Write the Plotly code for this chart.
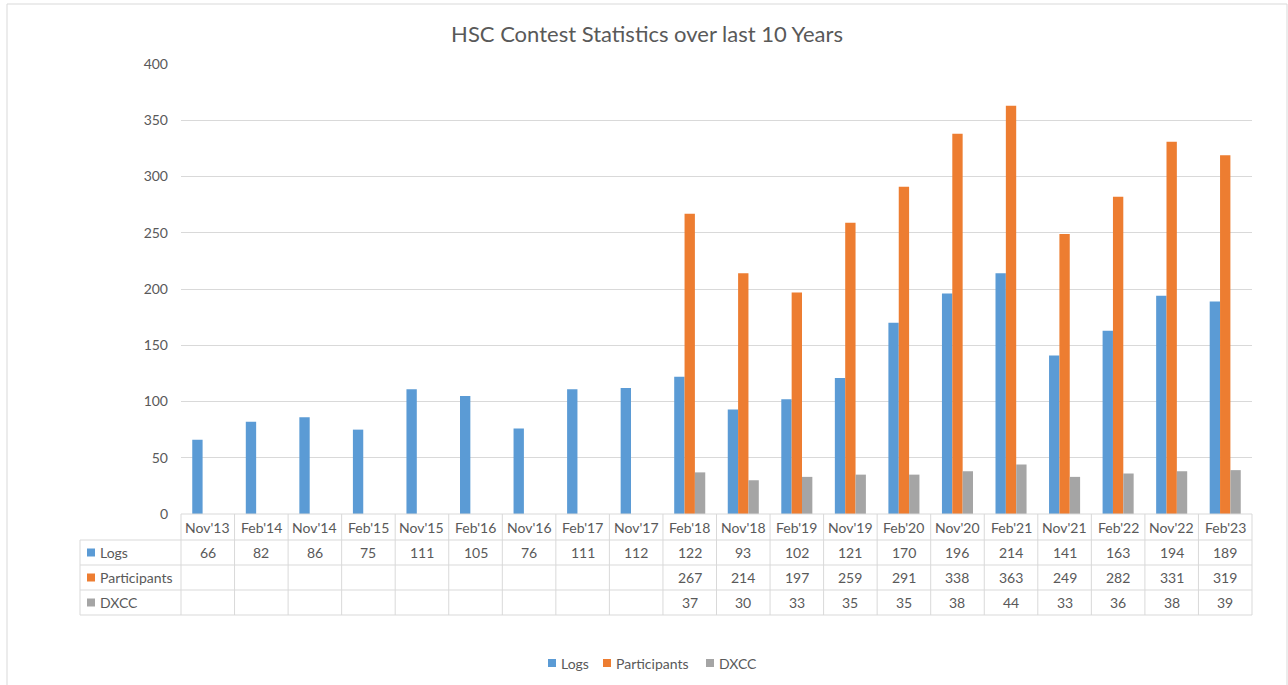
import plotly.graph_objects as go

categories = ["Nov'13", "Feb'14", "Nov'14", "Feb'15", "Nov'15", "Feb'16", "Nov'16", "Feb'17", "Nov'17",
              "Feb'18", "Nov'18", "Feb'19", "Nov'19", "Feb'20", "Nov'20", "Feb'21", "Nov'21", "Feb'22",
              "Nov'22", "Feb'23"]
logs = [66, 82, 86, 75, 111, 105, 76, 111, 112, 122, 93, 102, 121, 170, 196, 214, 141, 163, 194, 189]
participants = [None] * 9 + [267, 214, 197, 259, 291, 338, 363, 249, 282, 331, 319]
dxcc = [None] * 9 + [37, 30, 33, 35, 35, 38, 44, 33, 36, 38, 39]
y_ticks = [0, 50, 100, 150, 200, 250, 300, 350, 400]

series = [("Logs", logs, "#5B9BD5"), ("Participants", participants, "#ED7D31"), ("DXCC", dxcc, "#A5A5A5")]

W, H = 1288, 685
L, R, T, B = 181, 1252, 64, 514
FONT = "Lato"
TXT = "#595959"
GRID = "#D9D9D9"

fig = go.Figure()
for name, vals, col in series:
    fig.add_trace(go.Bar(x=list(range(len(categories))), y=vals, name=name, marker_color=col,
                         marker_line_width=0, hoverinfo="y+name", showlegend=False))

def px_x(p):
    return (p - L) / (R - L)

def px_y(p):
    return (B - p) / (B - T)

shapes = []
annotations = []
n = len(categories)
colw = (R - L) / n
row_edges = [514, 540, 565, 590, 615]

def hline(x0, x1, y, color=GRID):
    shapes.append(dict(type="line", xref="paper", yref="paper", x0=px_x(x0), x1=px_x(x1),
                       y0=px_y(y), y1=px_y(y), line=dict(color=color, width=1)))

def vline(x, y0, y1, color=GRID):
    shapes.append(dict(type="line", xref="paper", yref="paper", x0=px_x(x), x1=px_x(x),
                       y0=px_y(y0), y1=px_y(y1), line=dict(color=color, width=1)))

# table grid
hline(L, R, row_edges[0])
for ry in row_edges[1:]:
    hline(80, R, ry)
vline(80, 540, 615)
for i in range(n + 1):
    vline(L + i * colw, 514, 615)

# header labels
for i, c in enumerate(categories):
    annotations.append(dict(xref="paper", yref="paper", x=px_x(L + (i + 0.5) * colw), y=px_y(527),
                            text=c, showarrow=False, font=dict(family=FONT, size=14, color=TXT),
                            xanchor="center", yanchor="middle"))
# rows
for r, (name, vals, col) in enumerate(series):
    cy = (row_edges[r + 1] + row_edges[r + 2]) / 2
    shapes.append(dict(type="rect", xref="paper", yref="paper", x0=px_x(87), x1=px_x(95),
                       y0=px_y(cy - 4), y1=px_y(cy + 4), fillcolor=col, line=dict(width=0)))
    annotations.append(dict(xref="paper", yref="paper", x=px_x(98), y=px_y(cy), text=name,
                            showarrow=False, font=dict(family=FONT, size=14, color=TXT),
                            xanchor="left", yanchor="middle"))
    for i, v in enumerate(vals):
        if v is None:
            continue
        annotations.append(dict(xref="paper", yref="paper", x=px_x(L + (i + 0.5) * colw), y=px_y(cy),
                                text=str(v), showarrow=False, font=dict(family=FONT, size=14, color=TXT),
                                xanchor="center", yanchor="middle"))

# bottom legend (drawn manually to match spacing)
legend_x = [548, 603, 706]
for (name, vals, col), lx in zip(series, legend_x):
    shapes.append(dict(type="rect", xref="paper", yref="paper", x0=px_x(lx), x1=px_x(lx + 8),
                       y0=px_y(659), y1=px_y(667), fillcolor=col, line=dict(width=0)))
    annotations.append(dict(xref="paper", yref="paper", x=px_x(lx + 11), y=px_y(663), text=name,
                            showarrow=False, font=dict(family=FONT, size=14, color=TXT),
                            xanchor="left", yanchor="middle"))

# outer chart border (top, left, right)
hline(7, 1287, 4)
vline(7, 4, 690)
vline(1287, 4, 690)

fig.update_layout(
    width=W, height=H,
    margin=dict(l=L, r=W - R, t=T, b=H - B, pad=0, autoexpand=False),
    paper_bgcolor="white", plot_bgcolor="white",
    barmode="group", bargap=0.42, bargroupgap=0.0,
    showlegend=False,
    title=dict(text="HSC Contest Statistics over last 10 Years", x=647 / W, xanchor="center",
               y=1 - 34 / H, yanchor="middle", font=dict(family=FONT, size=22, color=TXT)),
    font=dict(family=FONT, size=14, color=TXT),
    xaxis=dict(range=[-0.5, n - 0.5], showticklabels=False, showgrid=False, zeroline=False,
               showline=False, ticks=""),
    yaxis=dict(range=[0, 400], tickvals=y_ticks, showgrid=True, gridcolor=GRID, gridwidth=1,
               zeroline=False, showline=False, ticks="", ticklabelstandoff=12,
               tickfont=dict(family=FONT, size=14, color=TXT)),
    shapes=shapes, annotations=annotations,
)

fig.write_html("out.html", config={"displayModeBar": False},
               post_script="document.body.style.margin='0';document.body.style.overflow='hidden';")
